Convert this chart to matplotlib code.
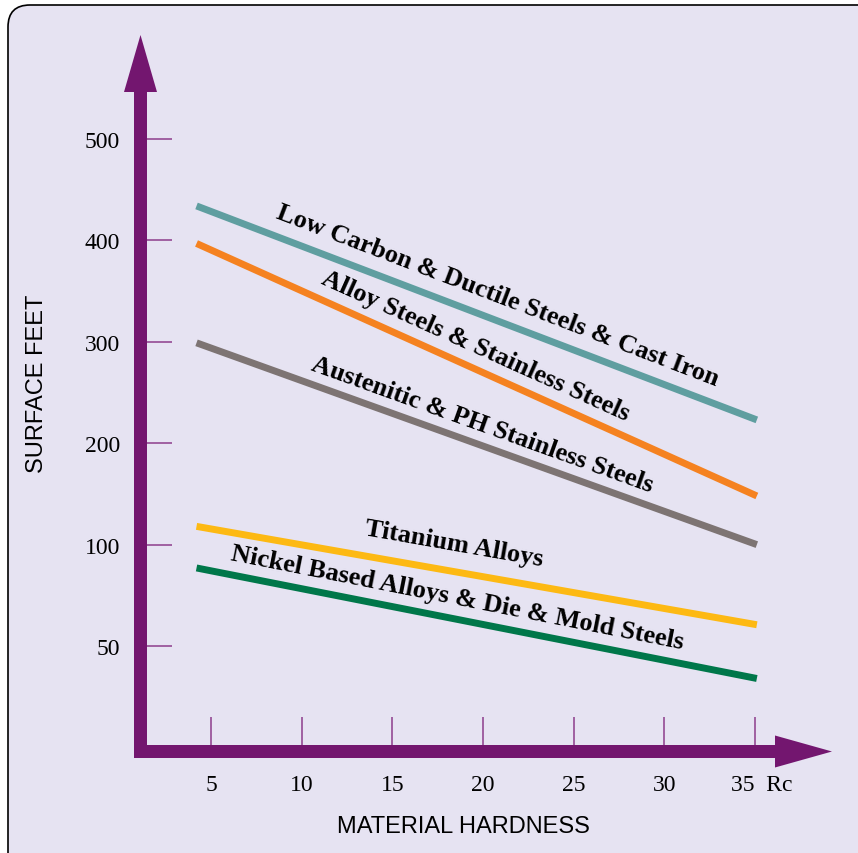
import numpy as np
import matplotlib
matplotlib.use("Agg")
from matplotlib import pyplot as plt
from matplotlib import patches
from matplotlib.transforms import IdentityTransform, ScaledTranslation

# hardness (Rc) at the two ends of each line
hardness = [4.2, 35.1]

# surface feet per minute at each end
low_carbon = [434, 223]
alloy_steel = [397, 148]
austenitic = [299, 100]
titanium = [118, 60.5]
nickel = [88.5, 34]

series = [low_carbon, alloy_steel, austenitic, titanium, nickel]
names = ['Low Carbon & Ductile Steels & Cast Iron',
         'Alloy Steels & Stainless Steels',
         'Austenitic & PH Stainless Steels',
         'Titanium Alloys',
         'Nickel Based Alloys & Die & Mold Steels']
colors = ['#5f9ea0', '#f58220', '#7d7473', '#fdb913', '#00774a']

# where each name sits (hardness, sfm)
label_at = [(20.83, 346), (19.6, 296), (19.95, 219), (18.4, 101.6), (18.57, 74)]

x_ticks = [5, 10, 15, 20, 25, 30, 35]
x_tick_labels = ['5', '10', '15', '20', '25', '30', '35  Rc']
y_ticks = [50, 100, 200, 300, 400, 500]

purple = '#73166f'
tick_purple = '#8c3d8b'
bg = '#e6e3f2'


# the scale is stretched below 100: 0-100 takes two steps, then 100 per step
def fwd(v):
    v = np.asarray(v, dtype=float)
    return np.where(v <= 100, v / 50.0, 2 + (v - 100) / 100.0)


def inv(p):
    p = np.asarray(p, dtype=float)
    return np.where(p <= 2, p * 50.0, 100 + (p - 2) * 100.0)


W, H = 858, 854
fig = plt.figure(figsize=(W / 100, H / 100), dpi=100)
fig.patch.set_facecolor('white')

frame = patches.FancyBboxPatch((8, -30), 900, H - 6 + 30, boxstyle='round,pad=0,rounding_size=22',
                               facecolor=bg, edgecolor='black', linewidth=1.2,
                               transform=IdentityTransform(), zorder=-10)
fig.add_artist(frame)

ax = fig.add_axes([140.5 / W, (H - 752.5) / H, (800 - 140.5) / W, (752.5 - 60) / H])
ax.set_facecolor('none')
ax.set_yscale('function', functions=(fwd, inv))
ax.set_xlim(1.11, 37.48)
ax.set_ylim(-2, 578.9)
for s in ax.spines.values():
    s.set_visible(False)

for vals, c in zip(series, colors):
    ax.plot(hardness, vals, color=c, linewidth=5, solid_capstyle='butt')

for name, vals, (lx, ly) in zip(names, series, label_at):
    p0, p1 = ax.transData.transform([(hardness[0], vals[0]), (hardness[1], vals[1])])
    ang = np.degrees(np.arctan2(p1[1] - p0[1], p1[0] - p0[0]))
    ax.text(lx, ly, name, rotation=ang, rotation_mode='anchor', ha='center', va='center',
            fontsize=19, fontweight='bold', family='Liberation Serif', color='black')

ax.set_xticks(x_ticks)
ax.set_xticklabels(x_tick_labels)
ax.set_yticks(y_ticks)
ax.set_yticklabels([str(v) for v in y_ticks])
ax.yaxis.set_minor_locator(matplotlib.ticker.NullLocator())
ax.tick_params(axis='x', direction='in', length=25.5, width=1.1, color=tick_purple, pad=16,
               labelsize=17)
ax.tick_params(axis='y', direction='in', length=22, width=1.1, color=tick_purple, pad=14.8,
               labelsize=17)
for t in ax.get_xticklabels() + ax.get_yticklabels():
    t.set_family('Liberation Serif')
last = ax.get_xticklabels()[-1]
last.set_transform(last.get_transform() + ScaledTranslation(5 / 72, 0, fig.dpi_scale_trans))

# purple axis arrows
fig.add_artist(patches.FancyArrow(140.5, H - 759, 0, 759 - 36, width=13, head_width=33,
                                  head_length=57, length_includes_head=True, color=purple,
                                  linewidth=0, transform=IdentityTransform(), zorder=5))
fig.add_artist(patches.FancyArrow(134, H - 752.5, 832 - 134, 0, width=13, head_width=32,
                                  head_length=57, length_includes_head=True, color=purple,
                                  linewidth=0, transform=IdentityTransform(), zorder=5))

fig.text(463.5 / W, (H - 827.5) / H, 'MATERIAL HARDNESS', ha='center', va='center',
         fontsize=17, family='Liberation Sans')
fig.text(37 / W, (H - 384) / H, 'SURFACE FEET', ha='center', va='center', rotation=90,
         fontsize=17, family='Liberation Sans')

fig.savefig('out.png', dpi=100)
